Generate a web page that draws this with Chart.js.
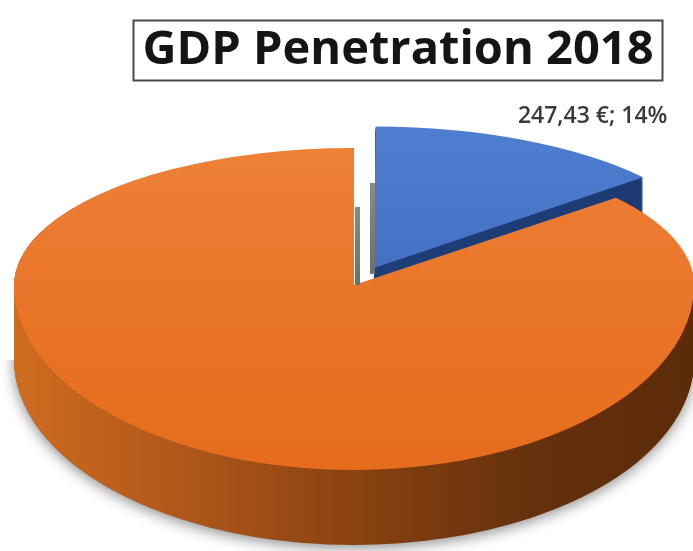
<!DOCTYPE html>
<html>
<head>
<meta charset="utf-8">
<script src="https://cdn.jsdelivr.net/npm/chart.js@4.4.1/dist/chart.umd.min.js"></script>
<style>
html,body{margin:0;padding:0;background:#ffffff;}
#wrap{width:693px;height:551px;position:relative;}
</style>
</head>
<body>
<div id="wrap"><canvas id="c" width="693" height="551"></canvas></div>
<script>
// ---- data ----
const titleText = 'GDP Penetration 2018';
const categories = ['Insurance premiums', 'Rest of GDP'];
const values = [247.43, 1520];
const showLabel = [true, false];
const currency = '€';

// ---- styling ----
const topColors = [['#4F7ED0', '#3863B5'], ['#EE8038', '#E56C1C']];
const sideColors = [['#22437F', '#1C3A70'], ['#CF6C1F', '#AF571A', '#8A4211', '#66310C', '#5C2B0A']];
// piecewise projection: back half flatter than front half (fake perspective)
const PIE = { vx: 354, vy: 285, rx: 340, ryBack: 137, ryFront: 185, depth: 75 };

function fmtValue(v) {
  return v.toLocaleString('de-DE', { minimumFractionDigits: 2, maximumFractionDigits: 2 });
}

const pie3d = {
  id: 'pie3d',
  beforeDatasetsDraw(chart) {
    const ctx = chart.ctx;
    const meta = chart.getDatasetMeta(0);
    const arcs = meta.data;
    if (!arcs.length) return false;
    const R = arcs[0].outerRadius, ox = arcs[0].x, oy = arcs[0].y;
    const W = chart.width, H = chart.height;
    const base = ctx.getTransform();
    const mkGrad = (stops, horizontal) => {
      const g = horizontal
        ? ctx.createLinearGradient(ox - R, 0, ox + R, 0)
        : ctx.createLinearGradient(0, oy - R, 0, oy + R);
      stops.forEach((c, k) => g.addColorStop(k / (stops.length - 1), c));
      return g;
    };
    const drawFace = (arc, dy, fill, shadow) => {
      const saved = arc.options;
      [0, 1].forEach(half => {
        ctx.save();
        ctx.setTransform(base);
        ctx.beginPath();
        if (half === 0) ctx.rect(0, -H, W, H + PIE.vy + dy);
        else ctx.rect(0, PIE.vy + dy, W, 2 * H);
        ctx.clip();
        if (shadow && half === 1) {
          ctx.shadowColor = 'rgba(0,0,0,0.45)';
          ctx.shadowBlur = 14;
          ctx.shadowOffsetY = 3;
        }
        ctx.translate(PIE.vx, PIE.vy + dy);
        ctx.scale(PIE.rx / R, (half === 0 ? PIE.ryBack : PIE.ryFront) / R);
        ctx.translate(-ox, -oy);
        arc.options = Object.assign({}, saved, { backgroundColor: fill, borderWidth: 0 });
        arc.draw(ctx);
        ctx.restore();
      });
      arc.options = saved;
    };
    arcs.forEach((arc, i) => {
      const sideFill = mkGrad(sideColors[i], true);
      const topFill = mkGrad(topColors[i], false);
      for (let d = PIE.depth; d >= 1; d--) drawFace(arc, d, sideFill, d === PIE.depth);
      drawFace(arc, 0, topFill, false);
    });

    // thin cut faces visible in the gap between the slices
    ctx.save();
    ctx.setTransform(base);
    arcs.forEach((arc) => {
      const mid = (arc.startAngle + arc.endAngle) / 2;
      const off = (arc.options.offset || 0) / 4;
      const vx = PIE.vx + Math.cos(mid) * off * PIE.rx / R;
      const vy = PIE.vy + Math.sin(mid) * off * PIE.ryBack / R;
      const g = ctx.createLinearGradient(0, vy - PIE.ryBack * 0.6, 0, vy);
      g.addColorStop(0, '#8a8a8a');
      g.addColorStop(1, '#6f6f6f');
      ctx.fillStyle = g;
      if (off > 0) {
        ctx.fillRect(vx - 4, vy - PIE.ryBack * 0.62, 5, PIE.ryBack * 0.62 + 6);
      } else {
        ctx.fillRect(vx + 1, vy - PIE.ryBack * 0.57, 5, PIE.ryBack * 0.57);
      }
    });
    ctx.restore();
    ctx.setTransform(base);
    return false;
  },
  afterDraw(chart) {
    const ctx = chart.ctx;
    // title frame
    const tb = chart.titleBlock;
    const tOpts = chart.options.plugins.title;
    ctx.save();
    ctx.font = `bold ${tOpts.font.size}px ${tOpts.font.family}`;
    const w = ctx.measureText(titleText).width;
    const cxT = tb.left + tb.width / 2;
    const cyT = tb.top + tOpts.padding.top + tOpts.font.size * 1.2 / 2;
    ctx.strokeStyle = '#4a4a4a';
    ctx.lineWidth = 2;
    ctx.strokeRect(Math.round(cxT - w / 2 - 9) + 0.5, Math.round(cyT - 30) + 0.5, Math.round(w + 18), 60);
    ctx.restore();

    // data labels
    const meta = chart.getDatasetMeta(0);
    const arcs = meta.data;
    const total = values.reduce((a, b) => a + b, 0);
    const R = arcs[0].outerRadius;
    arcs.forEach((arc, i) => {
      if (!showLabel[i]) return;
      const mid = (arc.startAngle + arc.endAngle) / 2;
      const off = (arc.options.offset || 0) / 4;
      const rr = R * 1.2 + off;
      const X = PIE.vx + Math.cos(mid) * rr * PIE.rx / R;
      const Y = PIE.vy + Math.sin(mid) * rr * PIE.ryBack / R;
      const pct = Math.round(values[i] / total * 100);
      const txt = `${fmtValue(values[i])} ${currency}; ${pct}%`;
      ctx.save();
      ctx.font = '600 23px "Open Sans"';
      ctx.fillStyle = '#3a3a3a';
      ctx.textAlign = 'center';
      ctx.textBaseline = 'middle';
      ctx.fillText(txt, X + 45, Y - 3);
      ctx.restore();
    });
  }
};

new Chart(document.getElementById('c'), {
  type: 'pie',
  data: {
    labels: categories,
    datasets: [{
      data: values,
      backgroundColor: ['#4472C4', '#ED7D31'],
      borderWidth: 0,
      offset: [100, 0]
    }]
  },
  options: {
    responsive: false,
    animation: false,
    layout: { padding: { left: 103 } },
    plugins: {
      legend: { display: false },
      tooltip: { enabled: false },
      title: {
        display: true,
        text: titleText,
        color: '#151515',
        font: { family: 'Open Sans', size: 47, weight: 'bold' },
        padding: { top: 22, bottom: 10 }
      }
    }
  },
  plugins: [pie3d]
});
</script>
</body>
</html>
